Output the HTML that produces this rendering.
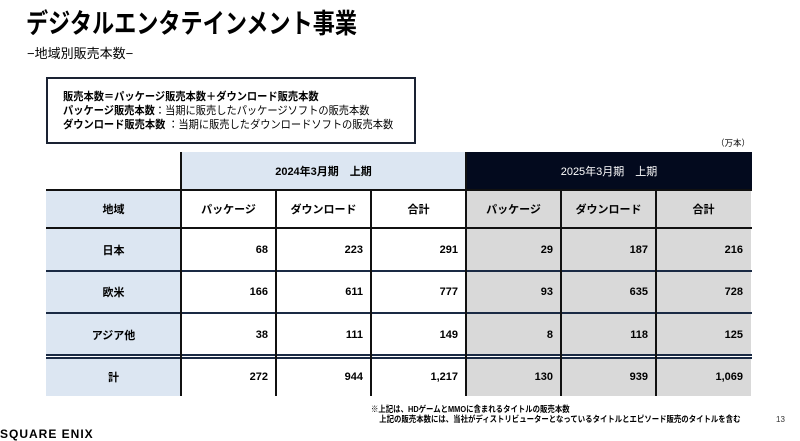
<!DOCTYPE html>
<html><head><meta charset="utf-8">
<style>
*{margin:0;padding:0;box-sizing:border-box}
body{width:800px;height:431px;overflow:hidden;background:#fff;position:relative;font-family:"Liberation Sans","Noto Sans CJK JP",sans-serif;color:#000}
.a{position:absolute}
.c{position:absolute;display:flex;align-items:center;justify-content:center;font-weight:bold;font-size:11px}
.r{justify-content:flex-end;padding-right:8px}
.vl{position:absolute;width:2px;background:#111}
.hl{position:absolute;height:2px;background:#111}
</style></head><body>
<div class="a" style="left:26px;top:2px;font-size:27px;font-weight:bold;transform:scaleX(0.82);transform-origin:left top;white-space:nowrap">デジタルエンタテインメント事業</div>
<div class="a" style="left:27px;top:43px;font-size:13px;white-space:nowrap">−地域別販売本数−</div>
<div class="a" style="left:46px;top:77px;width:370px;height:67px;border:2px solid #1a2233;padding:11px 0 0 15px;font-size:11px;line-height:14px;font-weight:bold;white-space:nowrap">
<div style="transform:scaleX(0.93);transform-origin:left">販売本数＝パッケージ販売本数＋ダウンロード販売本数</div>
<div style="transform:scaleX(0.93);transform-origin:left">パッケージ販売本数<span style="font-weight:normal">：当期に販売したパッケージソフトの販売本数</span></div>
<div style="transform:scaleX(0.93);transform-origin:left">ダウンロード販売本数 <span style="font-weight:normal">：当期に販売したダウンロードソフトの販売本数</span></div>
</div>
<div class="a" style="left:716px;top:137px;font-size:8.5px">（万本）</div>

<div id="tbl"></div>

<div class="a" style="left:371px;top:404px;font-size:8.5px;line-height:10px;font-weight:bold;transform:scaleX(0.87);transform-origin:left top;white-space:nowrap">※上記は、HDゲームとMMOに含まれるタイトルの販売本数<br>&nbsp;&nbsp;&nbsp;&nbsp;上記の販売本数には、当社がディストリビューターとなっているタイトルとエピソード販売のタイトルを含む</div>
<div class="a" style="left:776px;top:415px;font-size:8px;color:#333">13</div>
<div class="a" style="left:0px;top:427px;font-size:12px;font-weight:bold;letter-spacing:1px">SQUARE ENIX</div>

<script>
const regions=["日本","欧米","アジア他","計"];
const pkg2024=[68,166,38,272];
const dl2024=[223,611,111,944];
const tot2024=["291","777","149","1,217"];
const pkg2025=[29,93,8,130];
const dl2025=[187,635,118,939];
const tot2025=["216","728","125","1,069"];
const colHeaders=["パッケージ","ダウンロード","合計"];

const X=[46,181,276,371,466,561,656,752];
const Y=[228,271,313,356,396];
const t=document.getElementById('tbl');
function cell(x,y,w,h,txt,bg,cls,name,extra){
  const d=document.createElement('div');
  d.className='c '+(cls||'');
  d.style.left=x+'px';d.style.top=y+'px';d.style.width=w+'px';d.style.height=h+'px';
  d.style.background=bg;
  if(extra)Object.assign(d.style,extra);
  d.textContent=txt;
  
  
  t.appendChild(d);return d;
}
cell(X[1],152,X[4]-X[1],38,"2024年3月期　上期","#dce6f2","", "period-header-2024");
cell(X[4],152,X[7]-X[4],38,"2025年3月期　上期","#030a1e","","period-header-2025",{color:"#fff",fontWeight:"normal"});
cell(X[0],190,X[1]-X[0],38,"地域","#dce6f2","","region-header");
for(let i=0;i<3;i++){
  cell(X[1+i],190,95,38,colHeaders[i],"#fff","","col-header-2024");
  cell(X[4+i],190,95,38,colHeaders[i],"#d9d9d9","","col-header-2025");
}
for(let r=0;r<regions.length;r++){
  const y=Y[r]+(r==3?2:0),h=Y[r+1]-Y[r]-(r==3?2:0);
  cell(X[0],y,X[1]-X[0],h,regions[r],"#dce6f2","","region-label");
  const vals=[pkg2024[r],dl2024[r],tot2024[r],pkg2025[r],dl2025[r],tot2025[r]];
  for(let c=0;c<6;c++){
    cell(X[c+1],y,95,h,String(vals[c]),c<3?"#fff":"#d9d9d9","r","value-cell");
  }
}
function hl(x,y,w,col){const d=document.createElement('div');d.className='hl';d.style.left=x+'px';d.style.top=y+'px';d.style.width=w+'px';if(col)d.style.background=col;


t.appendChild(d);}
function vl(x,y,h){const d=document.createElement('div');d.className='vl';d.style.left=x+'px';d.style.top=y+'px';d.style.height=h+'px';


t.appendChild(d);}
hl(X[0],189,X[7]-X[0]);hl(X[0],227,X[7]-X[0]);
hl(X[0],270,X[7]-X[0],"#1a2a44");hl(X[0],312,X[7]-X[0],"#1a2a44");
hl(X[0],354,X[7]-X[0],"#1a2a44");hl(X[0],357,X[7]-X[0],"#1a2a44");
vl(X[1]-1,152,244);
for(let i=2;i<7;i++)vl(X[i]-1,i==4?152:190,i==4?244:206);
</script>
</body></html>
